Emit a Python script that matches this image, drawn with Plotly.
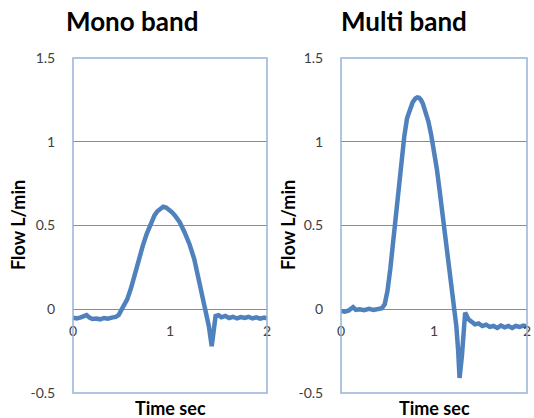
import plotly.graph_objects as go

# ---- data ----
mono_t = [0, 0.04, 0.08, 0.12, 0.14, 0.17, 0.2, 0.24, 0.28, 0.32, 0.36, 0.4, 0.44, 0.47,
          0.49, 0.52, 0.56, 0.6, 0.64, 0.68, 0.72, 0.76, 0.8, 0.84, 0.87, 0.9, 0.93, 0.96,
          0.99, 1.02, 1.05, 1.1, 1.15, 1.2, 1.25, 1.3, 1.34, 1.37, 1.40, 1.43, 1.45, 1.47,
          1.50, 1.53, 1.57, 1.61, 1.65, 1.69, 1.73, 1.77, 1.81, 1.85, 1.89, 1.93, 1.97, 2.0]
mono_flow = [-0.05, -0.055, -0.048, -0.042, -0.035, -0.05, -0.058, -0.055, -0.06, -0.052,
             -0.056, -0.05, -0.046, -0.035, -0.015, 0.02, 0.06, 0.13, 0.22, 0.3, 0.38, 0.45,
             0.51, 0.56, 0.585, 0.6, 0.612, 0.607, 0.595, 0.58, 0.56, 0.52, 0.46, 0.39, 0.3,
             0.17, 0.06, -0.02, -0.1, -0.22, -0.13, -0.04, -0.035, -0.048, -0.04, -0.052,
             -0.045, -0.055, -0.047, -0.052, -0.045, -0.055, -0.048, -0.056, -0.05, -0.055]

multi_t = [0, 0.04, 0.08, 0.11, 0.13, 0.16, 0.2, 0.25, 0.3, 0.35, 0.4, 0.44, 0.47, 0.5,
           0.53, 0.56, 0.59, 0.62, 0.65, 0.68, 0.71, 0.74, 0.77, 0.8, 0.82, 0.84, 0.86,
           0.88, 0.91, 0.94, 0.97, 1.0, 1.03, 1.06, 1.09, 1.12, 1.15, 1.18, 1.21, 1.24,
           1.26, 1.275, 1.30, 1.32, 1.335, 1.37, 1.4, 1.44, 1.48, 1.52, 1.56, 1.6, 1.64,
           1.68, 1.72, 1.76, 1.8, 1.84, 1.88, 1.92, 1.96, 2.0]
multi_flow = [-0.01, -0.015, -0.008, 0.0, 0.012, -0.004, 0.0, -0.006, 0.002, -0.004, 0.0,
              0.006, 0.03, 0.11, 0.24, 0.4, 0.58, 0.74, 0.89, 1.03, 1.14, 1.2, 1.235,
              1.258, 1.265, 1.262, 1.25, 1.228, 1.18, 1.12, 1.04, 0.95, 0.84, 0.71, 0.58,
              0.44, 0.31, 0.17, 0.04, -0.1, -0.25, -0.41, -0.28, -0.08, -0.02, -0.06,
              -0.075, -0.09, -0.085, -0.1, -0.092, -0.105, -0.1, -0.112, -0.098, -0.108,
              -0.1, -0.112, -0.1, -0.106, -0.098, -0.104]

panel_titles = ["Mono band", "Multi band"]
x_ticks = [0, 1, 2]
y_ticks = [-0.5, 0, 0.5, 1, 1.5]
y_ticktext = ["-0.5", "0", "0.5", "1", "1.5"]

# ---- layout geometry ----
W, H = 534, 418
line_col = "#4F81BD"
frame_col = "#95B3D7"
grid_col = "#8C8C8C"
tick_font = dict(family="Lato", size=14, color="#404040")
ydom = [1 - 393 / H, 1 - 58 / H]
xdoms = [[73 / W, 267 / W], [341 / W, 527 / W]]
zero_pos = ydom[0] + (0 - (-0.5)) / 2.0 * (ydom[1] - ydom[0])

fig = go.Figure()
fig.add_trace(go.Scatter(x=mono_t, y=mono_flow, mode="lines",
                         line=dict(color=line_col, width=4.5),
                         xaxis="x", yaxis="y", showlegend=False))
fig.add_trace(go.Scatter(x=multi_t, y=multi_flow, mode="lines",
                         line=dict(color=line_col, width=4.5),
                         xaxis="x2", yaxis="y2", showlegend=False))

layout = dict(width=W, height=H, margin=dict(l=0, r=0, t=0, b=0, pad=0),
              autosize=False, paper_bgcolor="white", plot_bgcolor="white",
              showlegend=False)

for i, (xd, name) in enumerate(zip(xdoms, ["", "2"])):
    layout["xaxis" + name] = dict(domain=xd, range=[0, 2], tickvals=x_ticks,
                                  anchor="free", position=zero_pos, showline=False,
                                  showgrid=False, zeroline=False, ticks="outside",
                                  ticklen=9, tickcolor="rgba(0,0,0,0)",
                                  tickfont=tick_font, fixedrange=True, automargin=False,
                                  ticklabeloverflow="allow")
    layout["yaxis" + name] = dict(domain=ydom, range=[-0.5, 1.5], tickvals=y_ticks,
                                  ticktext=y_ticktext, anchor="x" + name,
                                  showline=False, showgrid=True, gridcolor=grid_col,
                                  gridwidth=1, zeroline=False, ticks="outside",
                                  ticklen=14, tickcolor="rgba(0,0,0,0)",
                                  tickfont=tick_font, fixedrange=True, automargin=False)

shapes = []
for name in ["", "2"]:
    xr = "x" + name + " domain" if name else "x domain"
    yr = "y" + name + " domain" if name else "y domain"
    shapes.append(dict(type="rect", xref=xr, yref=yr, x0=0, x1=1, y0=0, y1=1,
                       line=dict(color=frame_col, width=1.5), layer="above"))
layout["shapes"] = shapes

bold = dict(family="Lato", color="black")
ann = []
title_x = [132, 404]
xlabel_x = [170, 434]
ylabel_x = [18, 288]
for i in range(2):
    ann.append(dict(text="<b>%s</b>" % panel_titles[i], x=title_x[i] / W, y=1 - 21 / H,
                    xref="paper", yref="paper", showarrow=False, xanchor="center",
                    yanchor="middle", font=dict(size=26, **bold)))
    ann.append(dict(text="<b>Time sec</b>", x=xlabel_x[i] / W, y=1 - 408 / H,
                    xref="paper", yref="paper", showarrow=False, xanchor="center",
                    yanchor="middle", font=dict(size=18, **bold)))
    ann.append(dict(text="<b>Flow L/min</b>", x=ylabel_x[i] / W, y=1 - 225 / H,
                    xref="paper", yref="paper", showarrow=False, xanchor="center",
                    yanchor="middle", textangle=-90, font=dict(size=18, **bold)))
layout["annotations"] = ann

fig.update_layout(**layout)
fig.write_html("out.html")
